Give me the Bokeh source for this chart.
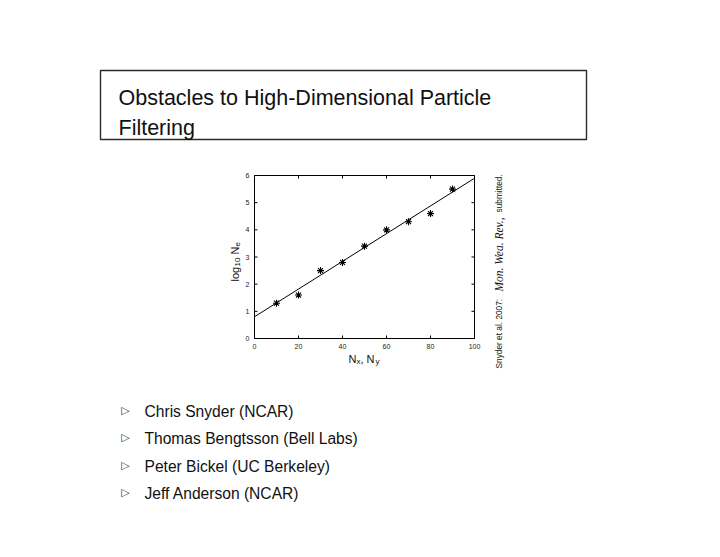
import math
from bokeh.plotting import figure
from bokeh.models import Range1d, Label, BoxAnnotation
from bokeh.core.properties import value
from bokeh.embed import file_html
from bokeh.resources import INLINE

# --- data -------------------------------------------------------------
grid_size = [10, 20, 30, 40, 50, 60, 70, 80, 90]          # N_x, N_y
log_ne = [1.3, 1.6, 2.5, 2.8, 3.4, 4.0, 4.3, 4.6, 5.5]    # log10 N_e
fit_x = [0, 100]
fit_y = [0.8, 5.9]

x_ticks = [0, 20, 40, 60, 80, 100]
y_ticks = [0, 1, 2, 3, 4, 5, 6]

title_lines = ["Obstacles to High-Dimensional Particle", "Filtering"]
people = [
    "Chris Snyder (NCAR)",
    "Thomas Bengtsson (Bell Labs)",
    "Peter Bickel (UC Berkeley)",
    "Jeff Anderson (NCAR)",
]
citation = ["Snyder et al. 2007:", "Mon. Wea. Rev.,", "submitted."]

# --- slide canvas: one pixel per unit, origin at the top-left ----------
W, H = 720, 557
SANS = "Liberation Sans"

p = figure(
    width=W, height=H,
    x_range=Range1d(0, W), y_range=Range1d(H, 0),
    output_backend="svg", toolbar_location=None,
    min_border=0, x_axis_location=None, y_axis_location=None,
)
p.background_fill_color = "white"
p.border_fill_color = "white"
p.outline_line_color = None
p.xgrid.visible = False
p.ygrid.visible = False


def page_label(text, px, py, size, font=SANS, style="normal", angle=0.0,
               align="left", baseline="alphabetic", color="#111111"):
    p.add_layout(Label(
        x=px, y=py, text=text, text_font=font, text_font_size=size,
        text_font_style=style, text_align=align, text_baseline=baseline,
        text_color=color, angle=angle,
    ))


# --- small chart placed on the slide through a sub-coordinate system ----
x_lo, x_hi = x_ticks[0], x_ticks[-1]
y_lo, y_hi = y_ticks[0], y_ticks[-1]
chart = p.subplot(
    x_source=Range1d(x_lo, x_hi), y_source=Range1d(y_lo, y_hi),
    x_target=Range1d(254, 474), y_target=Range1d(338, 175),
)

# plot box
chart.quad(left=[x_lo], right=[x_hi], bottom=[y_lo], top=[y_hi],
           fill_color=None, line_color="black", line_width=1)

# inward ticks on all four sides
TICK = 3
chart.ray(x=x_ticks, y=[y_lo] * len(x_ticks), length=TICK, length_units="screen",
          angle=math.pi / 2, line_color="black", line_width=1)
chart.ray(x=x_ticks, y=[y_hi] * len(x_ticks), length=TICK, length_units="screen",
          angle=-math.pi / 2, line_color="black", line_width=1)
chart.ray(x=[x_lo] * len(y_ticks), y=y_ticks, length=TICK, length_units="screen",
          angle=0, line_color="black", line_width=1)
chart.ray(x=[x_hi] * len(y_ticks), y=y_ticks, length=TICK, length_units="screen",
          angle=math.pi, line_color="black", line_width=1)

# tick labels
chart.text(x=x_ticks, y=[y_lo] * len(x_ticks), text=[str(t) for t in x_ticks],
           y_offset=5, text_align="center", text_baseline="top",
           text_font=value(SANS), text_font_size="7px", text_color="#222222")
chart.text(x=[x_lo] * len(y_ticks), y=y_ticks, text=[str(t) for t in y_ticks],
           x_offset=-5, text_align="right", text_baseline="middle",
           text_font=value(SANS), text_font_size="7px", text_color="#222222")

# fitted line and measured points
chart.line(fit_x, fit_y, line_color="black", line_width=1)
chart.scatter(grid_size, log_ne, marker="asterisk", size=7,
              line_color="black", line_width=1.1)

# axis titles with subscripts
page_label("N", 348, 358, "11px")
page_label("x", 356, 361, "8px")
page_label(", N", 360, 358, "11px")
page_label("y", 375, 361, "8px")

up = math.pi / 2
page_label("log", 234, 281, "11px", angle=up)
page_label("10", 237, 266, "8px", angle=up)
page_label("N", 234, 254, "11px", angle=up)
page_label("e", 237, 246, "8px", angle=up)

# rotated reference along the right edge of the chart
page_label(citation[0], 498, 368, "8.3px", angle=up)
page_label(citation[1], 498, 291, "11.5px", font="Liberation Serif",
           style="italic", angle=up)
page_label(citation[2], 498, 212, "8.3px", angle=up)

# --- title frame ------------------------------------------------------
p.add_layout(BoxAnnotation(
    left=100, right=586, top=70, bottom=139,
    fill_color=None, fill_alpha=0, line_color="#2a2a2a", line_alpha=1.0,
    line_width=1.4,
))
page_label(title_lines[0], 118, 97, "21.5px")
page_label(title_lines[1], 118, 127, "21.5px")

# --- bullet list ------------------------------------------------------
for i, name in enumerate(people):
    base = 411 + i * 27.3
    page_label("\u25B7", 125, base - 1, "11px", font="DejaVu Sans",
               align="center", color="#333333")
    page_label(name, 144, base, "15.6px")

open("out.html", "w").write(file_html(p, INLINE))
